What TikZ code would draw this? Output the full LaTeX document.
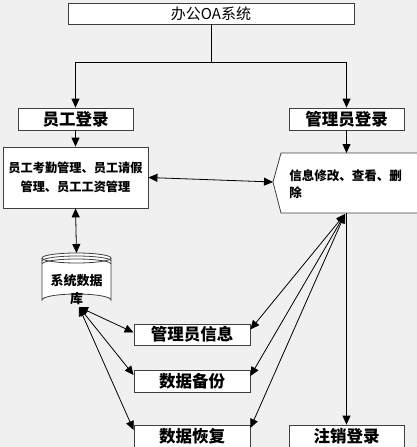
\documentclass[tikz,border=0pt]{standalone}
\usepackage{fontspec}
\setmainfont{Noto Sans CJK SC}
\usetikzlibrary{arrows.meta,positioning}
\definecolor{bggray}{HTML}{F0F0F0}
\definecolor{edge}{HTML}{404040}

\tikzset{
  box/.style={draw=edge,fill=white,inner sep=0pt,minimum width=115pt,
    minimum height=22pt,font=\bfseries\fontsize{16.5}{18}\selectfont},
  arr/.style={-{Triangle[length=9pt,width=8pt]}},
  darr/.style={{Triangle[length=9pt,width=8pt]}-{Triangle[length=9pt,width=8pt]}}
}

\begin{document}
\begin{tikzpicture}[x=1pt,y=-1pt,line width=0.8pt]
  \useasboundingbox (0,0) rectangle (417,447);
  \fill[bggray] (0,0) rectangle (417,447);
  \clip (0,0) rectangle (417,447);

  % top and the two logins
  \node[box,minimum width=286pt,minimum height=21pt,
    font=\fontsize{15}{17}\selectfont] (title) at (211,13.5) {办公OA系统};
  \node[box] (emplogin) at (75.5,119) {员工登录};
  \node[box] (admlogin) at (346.5,119) {管理员登录};
  \coordinate (split) at (211,62);
  \draw (title.south) -- (split);
  \draw[arr] (split) -| (emplogin.north);
  \draw[arr] (split) -| (admlogin.north);

  % employee side
  \node[box,minimum width=145pt,minimum height=61pt,align=center,
    font=\bfseries\fontsize{12.2}{19}\selectfont] (empmgr) at (75.5,177.5)
    {员工考勤管理、员工请假\\管理、员工工资管理};
  \draw[arr] (emplogin) -- (empmgr);

  % admin side
  \draw[draw=edge,fill=white] (281,153) -- (425,153) -- (425,213)
    -- (281,213) -- (273,182) -- cycle;
  \coordinate (infotip) at (273,182);
  \coordinate (infotop) at (346.5,153);
  \coordinate (hub) at (345,214);
  \node[anchor=west,align=left,inner sep=0pt,
    font=\bfseries\fontsize{12.5}{17}\selectfont] (info) at (289,184)
    {信息修改、查看、删\\除};
  \draw[arr] (admlogin.south) -- (infotop);
  \draw[darr] (empmgr.east) -- (infotip);

  % database
  \fill[white] (42,258) -- (42,300) arc[start angle=180,end angle=360,
    x radius=34.5,y radius=6] -- (111,258) -- cycle;
  \fill[white] (76.5,258) ellipse[x radius=34.5,y radius=5];
  \draw[draw=edge] (42,258) -- (42,300) arc[start angle=180,end angle=360,
    x radius=34.5,y radius=6] -- (111,258);
  \draw[draw=edge] (76.5,258) ellipse[x radius=34.5,y radius=5];
  \draw[draw=edge] (42,261) arc[start angle=180,end angle=360,x radius=34.5,y radius=5];
  \draw[draw=edge] (42,264) arc[start angle=180,end angle=360,x radius=34.5,y radius=5];
  \node[align=center,inner sep=0pt,
    font=\bfseries\fontsize{13}{18}\selectfont] (db) at (76.5,289) {系统数据\\库};
  \coordinate (dbtop) at (76.5,253);
  \coordinate (dbbot) at (79,307);
  \draw[darr] (empmgr.south) -- (dbtop);

  % lower boxes
  \node[box,minimum width=116pt,minimum height=21pt] (mgrinfo) at (192,334.5) {管理员信息};
  \node[box,minimum width=116pt] (backup) at (192,381) {数据备份};
  \node[box,minimum width=116pt] (restore) at (192,436) {数据恢复};
  \node[box] (logout) at (346.5,436) {注销登录};

  \draw[darr] (dbbot) -- ([yshift=2pt]mgrinfo.west);
  \draw[darr] (dbbot) -- ([yshift=6pt]backup.west);
  \draw[darr] (dbbot) -- ([yshift=6pt]restore.west);
  \draw[darr] (hub) -- ([yshift=5pt]mgrinfo.east);
  \draw[darr] (hub) -- ([yshift=5pt]backup.east);
  \draw[darr] (hub) -- ([yshift=8pt]restore.east);
  \draw[arr] (346.5,213) -- (logout.north);
\end{tikzpicture}
\end{document}
